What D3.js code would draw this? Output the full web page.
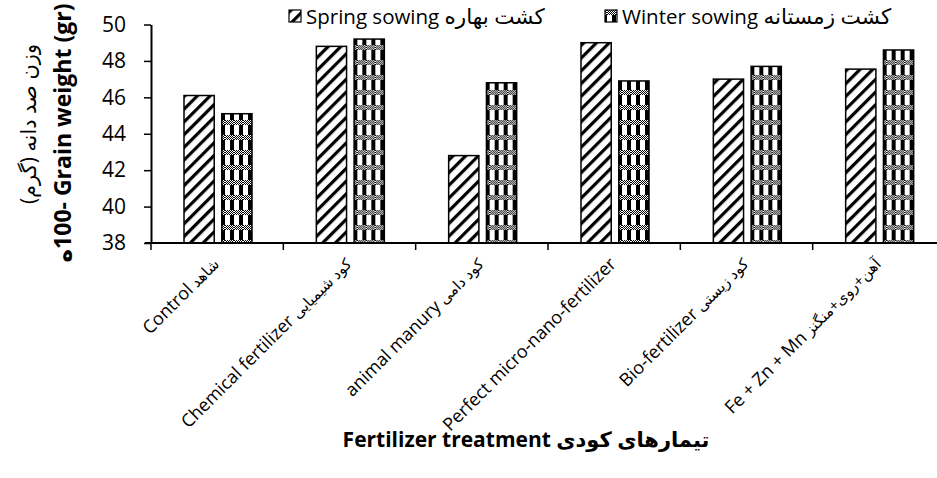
<!DOCTYPE html>
<html>
<head>
<meta charset="utf-8">
<script src="https://cdnjs.cloudflare.com/ajax/libs/d3/7.8.5/d3.min.js"></script>
<style>
  body { margin: 0; background: #fff; }
  svg { display: block; }
  text { font-family: "Open Sans", "DejaVu Sans", sans-serif; fill: #000; }
</style>
</head>
<body>
<div id="chart"></div>
<script>
// data
var categories = ["Control", "Chemical", "Animal", "Perfect", "Bio", "FeZnMn"];
var tickLabelsEn = [
  "Control",
  "Chemical fertilizer",
  "animal manury",
  "Perfect micro-nano-fertilizer",
  "Bio-fertilizer",
  "Fe + Zn + Mn"
];
var tickLabelsFa = ["شاهد", "کود شیمیایی", "کود دامی", "", "کود زیستی", "آهن+روی+منگنز"];
var seriesNames = ["spring", "winter"];
var seriesLabelsEn = ["Spring sowing", "Winter sowing"];
var seriesLabelsFa = ["کشت بهاره", "کشت زمستانه"];
var springValues = [46.1, 48.8, 42.8, 49.0, 47.0, 47.55];
var winterValues = [45.1, 49.2, 46.8, 46.9, 47.7, 48.6];
var yTicks = [38, 40, 42, 44, 46, 48, 50];

var svgWidth = 937;
var svgHeight = 478;

var svg = d3.select("#chart")
  .append("svg")
  .attr("width", svgWidth)
  .attr("height", svgHeight);

// patterns
var defs = svg.append("defs");

var stripes = defs.append("pattern")
  .attr("id", "stripes")
  .attr("patternUnits", "userSpaceOnUse")
  .attr("width", 9)
  .attr("height", 9)
  .attr("patternTransform", "rotate(45)");
stripes.append("rect").attr("width", 9).attr("height", 9).attr("fill", "#fff");
stripes.append("rect").attr("width", 3.2).attr("height", 9).attr("fill", "#000");

var dots = defs.append("pattern")
  .attr("id", "dots")
  .attr("patternUnits", "userSpaceOnUse")
  .attr("width", 2)
  .attr("height", 2);
dots.append("rect").attr("width", 2).attr("height", 2).attr("fill", "#fff");
dots.append("rect").attr("width", 1).attr("height", 1).attr("fill", "#000");
dots.append("rect").attr("x", 1).attr("y", 1).attr("width", 1).attr("height", 1).attr("fill", "#000");

var plaid = defs.append("pattern")
  .attr("id", "plaid")
  .attr("patternUnits", "userSpaceOnUse")
  .attr("width", 9)
  .attr("height", 15)
  .attr("x", 2)
  .attr("y", 0);
plaid.append("rect").attr("width", 9).attr("height", 15).attr("fill", "#fff");
plaid.append("rect").attr("x", 5).attr("width", 4).attr("height", 15).attr("fill", "#000");
plaid.append("rect").attr("y", 0).attr("width", 9).attr("height", 5).attr("fill", "url(#dots)");

var fills = { spring: "url(#stripes)", winter: "url(#plaid)" };

// scales
var x0 = d3.scaleBand()
  .domain(categories)
  .range([151, 945]);

var x1 = d3.scaleBand()
  .domain(seriesNames)
  .range([33, 101])
  .paddingInner(0.2);

var y = d3.scaleLinear()
  .domain([38, 50])
  .range([243, 24.5]);

var rows = categories.map(function(c, i) {
  return { cat: c, spring: springValues[i], winter: winterValues[i] };
});

// bars
var groups = svg.append("g").selectAll("g")
  .data(rows)
  .enter()
  .append("g")
  .attr("transform", d => `translate(${x0(d.cat)},0)`);

groups.selectAll("rect")
  .data(d => seriesNames.map(s => ({ key: s, value: d[s] })))
  .enter()
  .append("rect")
  .attr("x", d => x1(d.key))
  .attr("y", d => y(d.value))
  .attr("width", x1.bandwidth())
  .attr("height", d => y(38) - y(d.value))
  .attr("fill", d => fills[d.key])
  .attr("stroke", "#000")
  .attr("stroke-width", 1.5);

// y axis
var yAxis = svg.append("g")
  .attr("transform", "translate(151,0)")
  .call(d3.axisLeft(y).tickValues(yTicks).tickSize(7).tickPadding(18).tickSizeOuter(0));
yAxis.select(".domain").attr("stroke-width", 2);
yAxis.selectAll(".tick line").attr("stroke-width", 1.5);
yAxis.selectAll("text")
  .style("font-size", "21px")
  .style("font-family", "'Open Sans', sans-serif");

// x axis
var xAxis = svg.append("g")
  .attr("transform", "translate(0,243)")
  .call(d3.axisBottom(x0).tickSize(0).tickFormat(""));
xAxis.select(".domain").attr("d", "M145,0H945").attr("stroke-width", 2);

// boundary ticks between categories
var bounds = categories.map(c => x0(c));
svg.append("g").selectAll("line")
  .data(bounds)
  .enter()
  .append("line")
  .attr("x1", d => d)
  .attr("x2", d => d)
  .attr("y1", 243)
  .attr("y2", 250)
  .attr("stroke", "#000")
  .attr("stroke-width", 1.5);

// x tick labels, rotated
var xLabels = svg.append("g").selectAll("text")
  .data(categories)
  .enter()
  .append("text")
  .attr("transform", (d, i) => `translate(${x0(d) + x0.bandwidth() / 2 + 3},265) rotate(-45)`)
  .attr("text-anchor", "end")
  .style("font-size", "18px");
xLabels.append("tspan").text((d, i) => tickLabelsEn[i]);
xLabels.append("tspan")
  .style("font-size", "15px")
  .text((d, i) => tickLabelsFa[i] ? " " + tickLabelsFa[i] : "");

// axis titles
svg.append("text")
  .attr("x", 526)
  .attr("y", 447)
  .attr("text-anchor", "middle")
  .style("font-size", "21px")
  .style("font-weight", "bold")
  .text("Fertilizer treatment تیمارهای کودی");

svg.append("text")
  .attr("transform", "translate(36,124) rotate(-90)")
  .attr("text-anchor", "middle")
  .style("font-size", "21px")
  .text("وزن صد دانه (گرم)");

svg.append("text")
  .attr("transform", "translate(71,133) rotate(-90)")
  .attr("text-anchor", "middle")
  .style("font-size", "23px")
  .style("font-weight", "bold")
  .text("ه\u200E100- Grain weight (gr)");

// legend
var legendX = [289, 605];
var legend = svg.append("g").selectAll("g")
  .data(seriesNames)
  .enter()
  .append("g")
  .attr("transform", (d, i) => `translate(${legendX[i]},10)`);

legend.append("rect")
  .attr("width", 12)
  .attr("height", 12)
  .attr("fill", d => fills[d])
  .attr("stroke", "#000")
  .attr("stroke-width", 1.2);

var legendText = legend.append("text")
  .attr("x", 17)
  .attr("y", 14)
  .style("font-size", "20.5px");
legendText.append("tspan").text((d, i) => seriesLabelsEn[i] + " ");
legendText.append("tspan")
  .style("font-size", "21.5px")
  .text((d, i) => seriesLabelsFa[i]);
</script>
</body>
</html>
